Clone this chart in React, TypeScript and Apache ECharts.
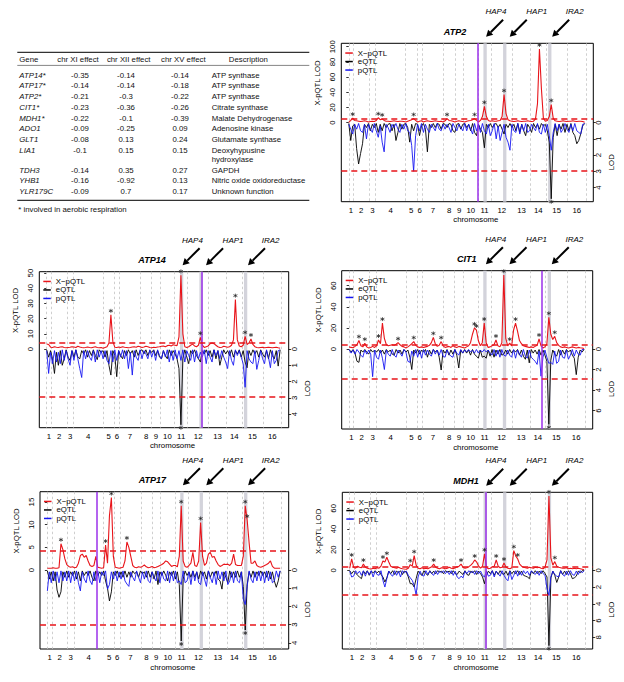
import React, { useEffect, useRef } from 'react';
import * as echarts from 'echarts';

// ---------------- data ----------------
const CHR_LABELS = ['1', '2', '3', '4', '5', '6', '7', '8', '9', '10', '11', '12', '13', '14', '15', '16'];
const CHR_LEN_KB = [230, 813, 317, 1532, 577, 270, 1091, 563, 440, 746, 667, 1078, 924, 784, 1091, 948];
const SCAN_STEP_KB = 100;

const HOTSPOT_NAMES = ['HAP4', 'HAP1', 'IRA2'];
const HOTSPOT_KB = [6935, 7935, 10225];
const HOTSPOT_HALF_KB = 85;

const GENES_PLOTTED = ['ATP2', 'ATP14', 'CIT1', 'ATP17', 'MDH1'];
const GENE_KB = [6548, 7969, 9861, 2541, 6958];
const XPQTL_THRESH = [4.2, 4.3, 4.2, 4.3, 4.1];
const LOD_THRESH = 3;
const LEFT_TICKS = [[0, 20, 40, 60, 80, 100], [0, 10, 20, 30, 40, 50], [0, 20, 40, 60], [0, 5, 10, 15], [0, 20, 40, 60]];
const RIGHT_TICKS = [[0, 1, 2, 3, 4], [0, 1, 2, 3, 4], [0, 2, 4, 6], [0, 1, 2, 3, 4], [0, 2, 4, 6, 8]];
const LEFT_MAX = [104.5, 50.9, 74.2, 17.3, 75.5];
const RIGHT_MAX = [4.88, 4.83, 7.8, 4.34, 9.4];

const ATP2_XPQTL = [0.5, 3, 6, 3, 2.5, 2, 1.5, 2, 2.5, 2,
  1, 1.5, 2, 1.5, 3, 6.5, 4, 5, 3, 2,
  2, 1.5, 2, 2.5, 2, 1.5, 2, 2, 1.5, 1,
  2, 3, 4, 5.5, 3, 1, 2, 2.5, 1, 2,
  2.5, 2, 1.5, 2, 2.5, 2, 1.5, 2, 1, 2.5,
  5.5, 3, 2.5, 2, 1, 2, 2.5, 2, 1.5, 1,
  2, 2.5, 3, 4, 5.5, 3, 1, 3, 8, 21.5,
  8, 3, 2, 2.5, 2, 2, 2.5, 3, 8, 37,
  12, 4, 2.5, 2, 1.5, 2, 2.5, 2, 1.5, 2,
  2, 2.5, 2, 1.5, 2, 5, 25, 97, 45, 6,
  2, 3, 8, 24, 6, 2.5, 2, 1.5, 2, 2.5,
  2, 1.5, 2, 2, 2.5, 2, 1.5, 2, 2, 1.5,
  0.5];
const ATP2_EQTL = [0.05, 1.1, 0.2, 0.1, 1.6, 2.55, 1.9, 1.3, 0.1, 0.3,
  0.05, 0.5, 0.1, 0.3, 0.05, 0.6, 0.1, 0.5, 0.05, 0.3,
  0.1, 0.05, 0.5, 0.1, 1.1, 0.6, 0.05, 0.4, 0.1, 0.05,
  0.3, 1.2, 0.1, 0.5, 0.05, 0.1, 0.8, 0.2, 0.05, 0.4,
  1.8, 0.1, 0.3, 0.05, 0.3, 0.05, 0.1, 0.4, 0.05, 0.1,
  0.3, 0.05, 0.1, 0.5, 0.6, 0.1, 0.05, 0.4, 0.1, 0.05,
  0.3, 0.1, 0.5, 0.05, 0.6, 0.8, 0.1, 0.4, 0.6, 1.55,
  0.1, 0.3, 0.05, 0.3, 0.1, 0.05, 0.3, 0.1, 0.4, 0.7,
  0.1, 0.3, 0.05, 0.3, 0.1, 0.5, 0.05, 0.6, 0.1, 0.5,
  0.8, 0.1, 0.3, 0.6, 0.05, 0.3, 0.1, 0.4, 0.05, 0.2,
  0.1, 0.5, 1.2, 4.7, 0.9, 0.1, 0.8, 0.1, 0.4, 0.05,
  0.6, 0.1, 0.5, 0.05, 0.6, 0.8, 1.3, 1.1, 0.7, 0.2,
  0.05];
const ATP2_PQTL = [0.1, 0.4, 0.7, 0.1, 0.4, 0.05, 0.5, 0.6, 0.1, 1.0,
  0.1, 0.4, 0.6, 0.05, 0.5, 0.9, 0.2, 1.2, 1.8, 0.1,
  0.3, 0.6, 0.1, 0.3, 0.05, 0.4, 0.6, 0.1, 0.4, 0.05,
  0.5, 0.6, 1.4, 3.0, 0.8, 0.1, 0.5, 0.05, 0.6, 0.1,
  0.4, 0.6, 0.1, 0.3, 0.5, 0.05, 0.4, 0.5, 0.1, 0.4,
  0.1, 0.3, 0.6, 0.05, 0.3, 0.5, 0.1, 0.3, 0.5, 0.05,
  0.5, 0.1, 0.4, 0.7, 0.05, 0.5, 0.1, 0.6, 0.05, 0.5,
  0.7, 0.1, 0.8, 0.5, 0.05, 1.0, 0.2, 1.1, 0.6, 0.1,
  0.9, 1.2, 1.7, 0.1, 0.5, 0.6, 0.05, 0.7, 0.1, 0.5,
  0.05, 0.6, 0.5, 0.1, 0.3, 0.5, 0.05, 0.6, 0.7, 0.1,
  0.6, 0.1, 0.8, 1.7, 0.6, 0.05, 0.5, 0.1, 0.6, 0.4,
  0.05, 0.4, 0.6, 0.1, 0.5, 0.05, 0.5, 0.6, 0.7, 0.1,
  0.05];
const ATP2_STARS_TOP = [2, 15, 17, 33, 50, 64, 69, 79, 97, 103];
const ATP2_STARS_BOT = [103];

const ATP14_XPQTL = [3.3, 3, 1.2, 1, 1.5, 1.2, 1, 1.3, 1.5, 1,
  0.8, 1, 1.2, 1.5, 1.3, 1, 1.8, 1.3, 1, 0.8,
  1, 1.3, 1, 0.8, 1.2, 1.5, 1, 0.8, 1, 0.5,
  1, 1.5, 4, 22.5, 5, 1.2, 1, 1.3, 1, 1.5,
  1.2, 1, 0.8, 1, 1.3, 1.5, 1.2, 1.8, 1.5, 1,
  1.3, 1.8, 1.5, 1, 0.8, 1.2, 1, 1.3, 1.5, 1.8,
  2, 1.5, 2.2, 2.5, 2, 2.8, 2.5, 2.2, 8, 48.5,
  10, 1.5, 1, 1.5, 2.5, 3.2, 2, 1.5, 2.5, 7.7,
  2.5, 1, 1.5, 2, 3.5, 4, 3.5, 2.5, 1.5, 1,
  1.2, 1.8, 1.5, 1.2, 1.5, 2.5, 6, 32.5, 6, 2,
  1.5, 2.5, 8.3, 3, 4, 6.6, 3, 1.5, 1, 0.8,
  1, 1.2, 0.8, 1, 1.2, 1, 0.8, 1, 1.2, 0.8,
  0.5];
const ATP14_EQTL = [0.05, 0.5, 0.1, 0.6, 1.5, 0.2, 1.0, 0.1, 1.0, 0.6,
  0.05, 0.5, 0.7, 0.1, 0.5, 0.05, 0.5, 0.6, 0.1, 0.3,
  0.05, 0.5, 0.1, 0.4, 0.05, 0.4, 0.65, 0.05, 0.2, 0.1,
  0.5, 0.1, 1.0, 1.6, 0.1, 0.4, 1.7, 0.1, 0.4, 0.6,
  0.1, 0.4, 0.05, 0.3, 0.1, 0.5, 0.05, 0.4, 0.1, 0.05,
  0.3, 0.05, 0.4, 0.1, 0.2, 0.05, 0.4, 0.1, 0.5, 0.6,
  0.1, 0.4, 0.6, 0.05, 0.4, 0.1, 0.3, 0.6, 1.2, 4.65,
  0.6, 0.05, 0.5, 0.9, 0.1, 0.3, 0.05, 0.4, 0.6, 0.8,
  0.1, 0.3, 0.05, 0.4, 0.1, 0.5, 0.05, 0.6, 0.1, 1.0,
  0.5, 0.05, 0.3, 0.1, 0.4, 0.05, 0.5, 0.1, 0.3, 0.05,
  0.5, 0.1, 0.8, 1.15, 0.1, 0.4, 0.05, 0.3, 0.1, 0.5,
  0.05, 0.3, 0.5, 0.1, 0.6, 0.05, 0.4, 0.6, 0.1, 1.05,
  0.05];
const ATP14_PQTL = [0.1, 1.5, 0.2, 0.9, 0.1, 0.8, 0.2, 0.9, 0.05, 0.7,
  0.1, 0.6, 1.0, 0.1, 0.7, 0.05, 0.6, 1.2, 1.75, 0.1,
  0.6, 0.1, 0.5, 0.7, 0.1, 0.8, 0.05, 0.5, 0.1, 0.6,
  0.1, 0.7, 0.9, 0.1, 0.8, 0.05, 0.7, 0.1, 0.5, 0.05,
  0.6, 0.1, 1.2, 0.2, 1.6, 0.1, 0.5, 0.7, 0.05, 0.6,
  0.1, 0.3, 0.6, 0.05, 0.5, 0.1, 0.7, 0.05, 0.4, 0.6,
  0.1, 0.5, 0.05, 0.8, 0.1, 0.7, 0.05, 0.6, 0.1, 0.7,
  0.05, 0.8, 0.1, 0.4, 0.7, 0.05, 0.8, 0.1, 0.6, 0.2,
  0.5, 0.05, 0.9, 0.1, 0.5, 0.8, 0.05, 0.4, 0.1, 0.6,
  0.1, 0.5, 0.8, 1.2, 0.1, 0.7, 1.0, 0.05, 0.4, 0.1,
  0.5, 0.9, 2.35, 0.1, 0.6, 0.8, 0.9, 0.1, 1.25, 0.7,
  0.1, 0.6, 0.9, 0.05, 0.5, 1.15, 0.1, 0.9, 0.7, 0.1,
  0.05];
const ATP14_STARS_TOP = [33, 69, 79, 97, 102, 105];
const ATP14_STARS_BOT = [69];

const CIT1_XPQTL = [2, 1.5, 1.2, 2.5, 4, 8, 3, 2, 5.5, 2,
  1, 1.5, 2.5, 1.5, 3, 8.5, 5, 24.5, 10, 4,
  3, 3.5, 4, 3.5, 4.5, 6, 4, 2.5, 2, 1,
  2, 3.5, 5, 7, 3.5, 2, 1.5, 2, 1.5, 2,
  2.5, 3.5, 6, 11, 5, 2.5, 3.5, 7, 3, 1.5,
  2, 2.5, 1.5, 3, 2, 1.5, 2.5, 2, 1.5, 1,
  2, 3, 6, 14, 20, 18, 8, 3, 6, 24.6,
  6, 1.5, 2, 3, 4, 8.5, 3, 2, 6, 70,
  10, 3, 5.5, 3, 18, 24.5, 17, 8, 5, 3,
  2.5, 2, 1.5, 2, 1.5, 2.5, 3.5, 9.5, 3, 1,
  2, 5, 30, 14, 9, 12, 6, 3.5, 2, 1.5,
  2, 1.5, 1, 1.5, 2, 1.5, 1, 1.5, 1.2, 1,
  0.5];
const CIT1_EQTL = [0.05, 0.3, 0.05, 0.4, 1.2, 1.3, 0.1, 0.3, 0.05, 0.3,
  0.5, 0.05, 0.3, 0.1, 0.3, 0.05, 0.4, 0.1, 0.5, 0.05,
  0.3, 0.1, 0.5, 0.6, 0.05, 0.4, 0.1, 0.5, 0.05, 0.3,
  0.1, 0.8, 2.0, 0.1, 0.4, 0.05, 0.5, 0.1, 0.3, 0.05,
  0.8, 0.1, 0.5, 0.05, 0.3, 0.1, 0.8, 2.05, 0.1, 0.4,
  0.05, 0.6, 0.1, 0.5, 0.05, 0.6, 1.85, 0.1, 0.4, 0.05,
  0.4, 0.1, 0.6, 0.05, 0.5, 0.7, 0.9, 0.1, 0.8, 0.7,
  0.9, 0.1, 0.7, 0.05, 0.8, 0.1, 0.5, 0.05, 0.6, 0.5,
  0.1, 0.5, 0.05, 0.4, 0.1, 0.3, 0.05, 0.6, 0.1, 0.7,
  1.0, 0.1, 1.35, 0.05, 0.4, 0.1, 0.5, 0.05, 0.6, 0.1,
  0.6, 1.2, 7.35, 1.1, 0.1, 0.5, 0.7, 0.05, 0.6, 0.1,
  0.5, 0.05, 0.3, 0.1, 0.6, 0.9, 2.5, 0.8, 0.1, 0.3,
  0.05];
const CIT1_PQTL = [0.05, 0.4, 0.1, 0.5, 0.05, 0.3, 0.6, 0.8, 0.1, 0.5,
  0.1, 0.5, 2.7, 0.1, 0.8, 1.0, 0.1, 0.9, 2.0, 0.1,
  0.5, 0.7, 0.05, 0.6, 0.8, 0.1, 0.4, 0.7, 0.05, 0.3,
  1.2, 1.3, 0.2, 0.7, 0.05, 0.8, 0.1, 0.9, 0.05, 0.6,
  0.1, 0.5, 0.7, 0.05, 0.5, 0.1, 0.6, 0.05, 0.7, 0.8,
  0.1, 0.5, 0.7, 0.8, 0.05, 0.4, 0.6, 0.05, 0.4, 0.1,
  0.3, 0.05, 0.3, 0.1, 0.4, 0.05, 0.4, 0.1, 0.3, 0.05,
  0.3, 0.1, 0.4, 0.6, 0.05, 0.7, 0.1, 0.8, 0.05, 0.6,
  0.7, 0.1, 0.6, 0.8, 0.05, 0.9, 0.1, 0.5, 0.8, 0.05,
  0.7, 0.9, 0.1, 0.8, 1.0, 1.2, 1.5, 0.2, 2.65, 0.8,
  0.1, 0.8, 1.4, 1.3, 1.5, 0.2, 1.4, 1.2, 0.1, 0.8,
  0.9, 0.1, 1.0, 0.6, 0.05, 0.7, 0.1, 0.5, 0.6, 0.05,
  0.05];
const CIT1_STARS_TOP = [5, 8, 15, 17, 25, 33, 43, 47, 64, 65, 69, 75, 79, 82, 85, 97, 102, 105];
const CIT1_STARS_BOT = [102];

const ATP17_XPQTL = [0.4, 0.4, 0.4, 0.5, 0.4, 0.4, 0.5, 5.8, 4.5, 2.5,
  1.2, 0.8, 0.6, 0.7, 0.5, 0.6, 1.5, 3.2, 3.5, 2.8,
  3.2, 2, 1, 0.8, 1, 3, 0.6, 0.5, 0.4, 0.5,
  5.5, 1.5, 12, 16, 3, 0.6, 0.5, 0.4, 0.5, 0.6,
  2, 6.2, 5, 3, 1, 0.6, 0.5, 0.7, 0.6, 0.8,
  1.1, 0.7, 0.5, 0.6, 0.8, 0.5, 0.6, 0.8, 1, 1.2,
  1.5, 2.0, 1.8, 1.3, 0.8, 1, 1, 0.7, 3, 14.2,
  2, 0.8, 0.6, 1, 1.5, 3.9, 1, 0.8, 2, 10.5,
  3, 1, 1.5, 3.5, 3.9, 2.8, 3, 2, 1.2, 0.8,
  1, 1.3, 1.2, 1.3, 1, 1.5, 3.5, 1.2, 1, 1,
  1, 3, 14.2, 11, 6, 1.5, 1.5, 2, 1, 0.7,
  0.6, 0.8, 1, 1.2, 1.5, 2, 0.8, 0.4, 0.4, 0.4,
  0.4];
const ATP17_EQTL = [0.05, 0.5, 0.1, 0.6, 0.1, 1.1, 1.5, 1.2, 0.1, 0.4,
  0.05, 0.4, 0.1, 0.3, 0.05, 0.5, 0.1, 0.6, 0.05, 0.3,
  0.1, 0.3, 0.05, 0.4, 0.6, 0.05, 0.3, 0.1, 0.3, 0.05,
  0.6, 1.0, 1.7, 1.2, 0.1, 0.3, 0.05, 0.4, 0.1, 0.4,
  0.05, 0.4, 0.1, 0.4, 0.05, 0.2, 0.1, 0.4, 0.05, 0.2,
  0.1, 0.4, 0.05, 0.4, 0.1, 0.5, 0.05, 0.8, 0.1, 0.3,
  0.05, 0.3, 0.6, 0.1, 0.3, 0.05, 0.5, 0.1, 0.8, 3.9,
  0.5, 0.05, 0.3, 0.1, 0.4, 0.05, 0.4, 0.1, 0.5, 0.05,
  0.3, 0.1, 0.5, 0.05, 0.4, 0.1, 0.3, 0.05, 0.5, 0.6,
  1.05, 0.1, 0.4, 0.7, 0.05, 0.4, 0.1, 0.4, 0.05, 0.4,
  0.1, 0.9, 3.3, 0.8, 0.1, 0.4, 0.05, 0.4, 0.1, 0.3,
  0.05, 0.3, 0.1, 0.4, 0.05, 0.5, 0.1, 0.6, 0.95, 0.6,
  0.05];
const ATP17_PQTL = [1.15, 0.1, 0.7, 0.05, 0.6, 0.1, 0.7, 0.05, 0.6, 0.1,
  0.6, 0.05, 0.7, 0.1, 0.6, 0.05, 0.7, 1.15, 0.1, 0.5,
  0.7, 0.05, 0.6, 0.8, 0.1, 0.6, 0.05, 0.7, 0.1, 0.3,
  0.05, 1.05, 0.8, 0.1, 0.5, 0.05, 0.6, 0.1, 0.5, 0.05,
  0.6, 0.77, 0.9, 0.1, 0.4, 0.6, 0.05, 0.4, 0.7, 0.1,
  0.5, 0.05, 0.6, 0.7, 0.1, 0.4, 0.6, 0.05, 0.7, 0.1,
  0.5, 0.6, 0.05, 0.7, 0.1, 0.6, 0.05, 0.7, 0.6, 0.8,
  0.05, 0.7, 0.6, 0.1, 0.8, 0.05, 0.6, 0.1, 0.7, 0.8,
  0.1, 0.5, 0.9, 0.05, 0.4, 0.7, 0.1, 0.8, 0.05, 0.5,
  0.1, 0.6, 0.05, 0.8, 0.6, 0.1, 0.7, 0.05, 0.6, 0.7,
  0.1, 1.6, 1.9, 0.9, 0.05, 0.5, 0.7, 0.1, 0.6, 0.05,
  0.6, 0.1, 0.7, 0.05, 0.6, 0.1, 0.7, 0.6, 0.05, 0.4,
  0.05];
const ATP17_STARS_TOP = [7, 30, 33, 41, 69, 79, 102, 103];
const ATP17_STARS_BOT = [69, 102];

const MDH1_XPQTL = [2, 11, 3, 2, 4, 3, 2.5, 6, 3, 2,
  1.5, 1.2, 2, 1.5, 2.5, 2, 4, 9, 8, 12.6,
  8, 4, 3, 2.5, 2, 3, 2, 1.5, 1.2, 1,
  2, 5.5, 4, 14.2, 5, 2, 1.5, 2.5, 1.5, 2,
  1.5, 2.5, 3.5, 6, 3, 2, 1.5, 2.5, 2, 1.5,
  2, 3, 2, 1.5, 2.5, 3.5, 4, 6, 3, 2,
  2.5, 3.5, 5, 7, 10, 8, 4, 2, 4, 16,
  3, 1.5, 2, 3.5, 4, 10, 4, 2.5, 3, 7,
  3, 2, 1.5, 2.5, 19, 14, 11, 6, 4, 3,
  2.5, 2, 3, 2.5, 2, 3, 2.5, 3, 2, 1.5,
  3, 10, 72, 12, 5, 8.4, 4, 3, 2.5, 2,
  2, 2.5, 1.5, 2, 1.5, 2, 1.5, 2, 1.5, 1,
  0.5];
const MDH1_EQTL = [0.05, 0.4, 0.1, 0.3, 0.6, 0.8, 1.0, 0.1, 0.4, 0.05,
  0.6, 0.1, 0.3, 0.05, 0.3, 0.1, 0.5, 0.8, 1.4, 0.9,
  0.1, 0.4, 0.05, 0.5, 0.1, 0.3, 0.05, 0.5, 0.1, 0.2,
  0.8, 1.6, 1.6, 2.0, 1.0, 0.1, 0.4, 0.6, 0.05, 0.4,
  0.6, 0.05, 0.4, 0.1, 0.4, 0.05, 0.2, 0.1, 0.4, 0.05,
  0.2, 0.1, 0.4, 0.05, 0.4, 0.5, 0.1, 0.3, 0.5, 0.05,
  0.5, 0.6, 0.1, 0.3, 0.05, 0.5, 0.1, 0.4, 0.8, 1.6,
  0.6, 0.1, 0.4, 0.05, 0.6, 0.1, 0.5, 0.05, 0.4, 0.5,
  0.1, 0.6, 0.05, 0.4, 0.1, 0.4, 0.05, 0.5, 0.1, 0.6,
  0.7, 0.8, 1.0, 0.1, 0.4, 0.05, 0.4, 0.1, 0.4, 0.05,
  0.4, 0.8, 9.0, 0.9, 0.1, 0.6, 1.45, 0.8, 0.05, 0.5,
  0.1, 0.5, 0.05, 0.4, 1.0, 0.9, 0.7, 0.1, 0.3, 0.05,
  0.05];
const MDH1_PQTL = [0.1, 0.8, 0.7, 0.05, 0.4, 0.1, 0.6, 0.05, 0.7, 0.1,
  0.5, 0.05, 0.8, 0.1, 0.5, 0.6, 0.05, 1.2, 2.0, 1.0,
  0.1, 0.5, 0.7, 0.05, 0.6, 0.1, 0.8, 0.05, 0.3, 0.1,
  0.6, 0.9, 1.2, 1.8, 2.95, 0.8, 0.1, 0.6, 0.7, 0.05,
  0.5, 0.1, 0.4, 0.6, 0.05, 0.5, 0.1, 0.3, 0.05, 0.4,
  0.1, 0.5, 0.05, 0.6, 0.1, 0.8, 1.0, 0.7, 0.9, 0.1,
  0.4, 0.05, 0.3, 0.1, 0.5, 0.05, 0.4, 0.1, 0.6, 0.8,
  0.1, 0.7, 0.6, 0.05, 0.8, 0.1, 0.4, 0.7, 0.05, 0.6,
  1.0, 1.25, 0.1, 1.1, 0.6, 0.05, 0.7, 0.1, 0.6, 0.05,
  0.4, 0.1, 0.6, 0.05, 0.3, 0.5, 0.1, 0.6, 0.05, 0.4,
  0.6, 2.2, 3.0, 0.8, 0.1, 0.5, 0.7, 0.8, 0.05, 0.5,
  0.7, 0.1, 0.6, 0.05, 0.5, 0.6, 0.1, 0.5, 0.05, 0.3,
  0.05];
const MDH1_STARS_TOP = [1, 7, 17, 19, 31, 33, 43, 57, 64, 69, 75, 79, 84, 86, 102, 105];
const MDH1_STARS_BOT = [102];

// table
const TABLE_HEADER = ['Gene', 'chr XI effect', 'chr XII effect', 'chr XV effect', 'Description'];
const TABLE_GENES = ['ATP14*', 'ATP17*', 'ATP2*', 'CIT1*', 'MDH1*', 'ADO1', 'GLT1', 'LIA1', 'TDH3', 'YHB1', 'YLR179C'];
const EFFECT_XI = [-0.35, -0.14, -0.21, -0.23, -0.22, -0.09, -0.08, -0.1, -0.14, -0.16, -0.09];
const EFFECT_XII = [-0.14, -0.14, -0.3, -0.36, -0.1, -0.25, 0.13, 0.15, 0.35, -0.92, 0.7];
const EFFECT_XV = [-0.14, -0.18, -0.22, -0.26, -0.39, 0.09, 0.24, 0.15, 0.27, 0.13, 0.17];
const DESCRIPTIONS = ['ATP synthase', 'ATP synthase', 'ATP synthase', 'Citrate synthase', 'Malate Dehydrogenase',
  'Adenosine kinase', 'Glutamate synthase', 'Deoxyhypusine\nhydroxylase', 'GAPDH', 'Nitric oxide oxidoreductase', 'Unknown function'];
const FOOTNOTE = '* involved in aerobic respiration';

// ---------------- layout / style ----------------
const FONT = '"Liberation Sans", Arial, Helvetica, sans-serif';
const RED = '#e8141a';
const BLUE = '#1616f2';
const PURPLE = '#9b30ea';
const X_MIN = -380;
const X_MAX = 12440;
const PANEL_BOX = [
  { left: 341.3, top: 43.3, width: 252, height: 158.4, zeroY: 122.7, titleDx: -12.3 },
  { left: 39.3, top: 271.7, width: 249.4, height: 156, zeroY: 349, titleDx: -12 },
  { left: 341.7, top: 270.7, width: 251, height: 158.3, zeroY: 349, titleDx: -0.5 },
  { left: 40, top: 491.7, width: 248.7, height: 157.3, zeroY: 570, titleDx: -12 },
  { left: 342.3, top: 492.3, width: 250.4, height: 156.7, zeroY: 570.3, titleDx: -1.5 },
];
const ARROW_DX = [1, 5, 2.4];
const ARROW_LABEL_DX = [10.8, 32, 25];

const PANELS = [
  { x: ATP2_XPQTL, e: ATP2_EQTL, q: ATP2_PQTL, st: ATP2_STARS_TOP, sb: ATP2_STARS_BOT },
  { x: ATP14_XPQTL, e: ATP14_EQTL, q: ATP14_PQTL, st: ATP14_STARS_TOP, sb: ATP14_STARS_BOT },
  { x: CIT1_XPQTL, e: CIT1_EQTL, q: CIT1_PQTL, st: CIT1_STARS_TOP, sb: CIT1_STARS_BOT },
  { x: ATP17_XPQTL, e: ATP17_EQTL, q: ATP17_PQTL, st: ATP17_STARS_TOP, sb: ATP17_STARS_BOT },
  { x: MDH1_XPQTL, e: MDH1_EQTL, q: MDH1_PQTL, st: MDH1_STARS_TOP, sb: MDH1_STARS_BOT },
];

const STAR_PATH = 'path://M5 0L5 10M0.67 2.5L9.33 7.5M0.67 7.5L9.33 2.5';

function chrGeometry() {
  const starts: number[] = [];
  let acc = 0;
  CHR_LEN_KB.forEach((l) => { starts.push(acc); acc += l; });
  const boundaries = [...starts, acc];
  const centers = CHR_LEN_KB.map((l, k) => starts[k] + l / 2);
  return { boundaries, centers };
}

function buildOption() {
  const { boundaries, centers } = chrGeometry();
  const grid: any[] = [];
  const xAxis: any[] = [];
  const yAxis: any[] = [];
  const series: any[] = [];
  const legend: any[] = [];
  const labelStyle = { fontSize: 7.8, color: '#000', fontFamily: FONT };

  PANEL_BOX.forEach((b, p) => {
    const h1 = b.zeroY - b.top;
    const h2 = b.top + b.height - b.zeroY;
    const T = LEFT_MAX[p];
    const B = RIGHT_MAX[p];
    grid.push({
      left: b.left, top: b.top, width: b.width, height: b.height,
      show: true, borderColor: '#000', borderWidth: 1, backgroundColor: 'rgba(0,0,0,0)',
      containLabel: false, outerBoundsMode: 'none',
    });
    xAxis.push({
      gridIndex: p, type: 'value', min: X_MIN, max: X_MAX,
      axisLine: { show: false }, axisTick: { show: false }, splitLine: { show: false },
      axisLabel: {
        ...labelStyle, margin: 4.5, customValues: centers,
        formatter: (v: number) => {
          let best = 0;
          centers.forEach((c, k) => { if (Math.abs(c - v) < Math.abs(centers[best] - v)) best = k; });
          return CHR_LABELS[best];
        },
      },
      name: 'chromosome', nameLocation: 'middle', nameGap: 14,
      nameTextStyle: { ...labelStyle, padding: [0, 0, 0, 17] },
    });
    yAxis.push({
      gridIndex: p, type: 'value', position: 'left', min: -T * h2 / h1, max: T,
      axisLine: { show: false }, splitLine: { show: false },
      axisTick: { show: true, customValues: LEFT_TICKS[p], length: 2.5, lineStyle: { color: '#000', width: 0.8 } },
      axisLabel: { ...labelStyle, customValues: LEFT_TICKS[p], rotate: 90, margin: 4.5 },
    });
    yAxis.push({
      gridIndex: p, type: 'value', position: 'right', inverse: true, min: -B * h1 / h2, max: B,
      axisLine: { show: false }, splitLine: { show: false },
      axisTick: { show: true, customValues: RIGHT_TICKS[p], length: 2.5, lineStyle: { color: '#000', width: 0.8 } },
      axisLabel: { ...labelStyle, customValues: RIGHT_TICKS[p], rotate: 90, margin: 1.5 },
    });

    const pn = PANELS[p];
    const toXY = (arr: number[]) => arr.map((v, i) => [i * SCAN_STEP_KB, v]);
    const common = { type: 'line', xAxisIndex: p, showSymbol: false, symbol: 'none', silent: true, clip: true };

    series.push({
      ...common, name: 'eQTL', yAxisIndex: 2 * p + 1, data: toXY(pn.e), z: 2,
      itemStyle: { color: '#000' }, lineStyle: { color: '#000', width: 0.9 },
      markArea: {
        silent: true, itemStyle: { color: '#d3d3db' }, label: { show: false },
        data: HOTSPOT_KB.map((c) => [{ xAxis: c - HOTSPOT_HALF_KB }, { xAxis: c + HOTSPOT_HALF_KB }]),
      },
      markLine: {
        silent: true, symbol: ['none', 'none'], z: 1.5, label: { show: false },
        lineStyle: { color: '#c3c3c3', type: [2.5, 2.5], width: 0.8 },
        data: boundaries.map((v) => ({ xAxis: v })),
      },
    });
    series.push({
      ...common, name: 'pQTL', yAxisIndex: 2 * p + 1, data: toXY(pn.q), z: 3,
      itemStyle: { color: BLUE }, lineStyle: { color: BLUE, width: 0.9 },
      markLine: {
        silent: true, symbol: ['none', 'none'], label: { show: false },
        lineStyle: { color: PURPLE, width: 1.5, type: 'solid' },
        data: [{ xAxis: GENE_KB[p] }],
      },
    });
    series.push({
      ...common, name: 'X−pQTL', yAxisIndex: 2 * p, data: toXY(pn.x), z: 4,
      itemStyle: { color: RED }, lineStyle: { color: RED, width: 1.1 },
    });
    const starStyle = { color: 'rgba(0,0,0,0)', borderColor: '#222', borderWidth: 0.9 };
    series.push({
      type: 'scatter', name: 'sig', xAxisIndex: p, yAxisIndex: 2 * p, z: 6, silent: true,
      symbol: STAR_PATH, symbolSize: 4, symbolOffset: [0, -4], itemStyle: starStyle,
      data: pn.st.map((i) => [i * SCAN_STEP_KB, pn.x[i]]),
    });
    series.push({
      type: 'scatter', name: 'sig', xAxisIndex: p, yAxisIndex: 2 * p + 1, z: 6, silent: true,
      symbol: STAR_PATH, symbolSize: 4, symbolOffset: [0, 3], itemStyle: starStyle,
      data: pn.sb.map((i) => [i * SCAN_STEP_KB, Math.max(pn.e[i], pn.q[i])]),
    });
    legend.push({
      left: b.left + 4, top: b.top + 5.5, orient: 'vertical', padding: 0, itemGap: 0,
      itemWidth: 7.5, itemHeight: 1.5, icon: 'rect', selectedMode: false,
      data: ['X−pQTL', 'eQTL', 'pQTL'],
      textStyle: { fontSize: 7.8, lineHeight: 8.5, color: '#000', fontFamily: FONT },
    });
  });

  return { animation: false, grid, xAxis, yAxis, series, legend };
}

function textEl(text: string, x: number, y: number, extra: any = {}, rotation = 0) {
  const { align = 'left', fontStyle = 'normal', fontWeight = 'normal', fontSize = 7.8, fill = '#111' } = extra;
  return {
    type: 'text', x, y, rotation, silent: true,
    style: {
      text, fill, fontSize, fontFamily: FONT, fontStyle, fontWeight,
      align, verticalAlign: 'middle', textAlign: align, textVerticalAlign: 'middle',
    },
  };
}

// dashed significance line, snapped so that it fills a whole pixel pair
function thresholdLine(x1: number, x2: number, yRaw: number) {
  const y = 2 * Math.round((yRaw - 1) / 2) + 1;
  return {
    type: 'line', silent: true, z: 50,
    shape: { x1, y1: y, x2, y2: y },
    style: { stroke: RED, lineWidth: 1.6, lineDash: [6, 4] },
  };
}

function buildGraphics(chart: any) {
  const g: any[] = [];
  // ----- table -----
  const ruleL = 17.3, ruleR = 309.3;
  g.push({ type: 'line', silent: true, shape: { x1: ruleL, y1: 52.3, x2: ruleR, y2: 52.3 }, style: { stroke: '#333', lineWidth: 1.2 } });
  g.push({ type: 'line', silent: true, shape: { x1: ruleL, y1: 65.4, x2: ruleR, y2: 65.4 }, style: { stroke: '#333', lineWidth: 0.6 } });
  g.push({ type: 'line', silent: true, shape: { x1: ruleL, y1: 200.3, x2: ruleR, y2: 200.3 }, style: { stroke: '#333', lineWidth: 1.2 } });
  const headX = [19.3, 78, 128.7, 183.3, 248.3];
  const headAlign = ['left', 'center', 'center', 'center', 'center'];
  TABLE_HEADER.forEach((h, k) => g.push(textEl(h, headX[k], 59, { align: headAlign[k] })));
  TABLE_GENES.forEach((gene, r) => {
    const y = 75 + 10.75 * r + (r > 7 ? 9 : 0);
    g.push(textEl(gene, 19.3, y, { fontStyle: 'italic' }));
    g.push(textEl(String(EFFECT_XI[r]), 80, y, { align: 'center' }));
    g.push(textEl(String(EFFECT_XII[r]), 126, y, { align: 'center' }));
    g.push(textEl(String(EFFECT_XV[r]), 180, y, { align: 'center' }));
    DESCRIPTIONS[r].split('\n').forEach((line, li) => g.push(textEl(line, 211.7, y + li * 9.4)));
  });
  g.push(textEl(FOOTNOTE, 18.3, 209));

  // ----- panel annotations -----
  PANEL_BOX.forEach((b, p) => {
    const cx = b.left + b.width / 2;
    // significance thresholds, positioned through each axis' own scale
    const yTop = chart.convertToPixel({ yAxisIndex: 2 * p }, XPQTL_THRESH[p]) as number;
    const yLod = chart.convertToPixel({ yAxisIndex: 2 * p + 1 }, LOD_THRESH) as number;
    g.push(thresholdLine(b.left, b.left + b.width, yTop));
    g.push(thresholdLine(b.left, b.left + b.width, yLod));
    g.push(textEl(GENES_PLOTTED[p], cx + b.titleDx, b.top - 11.5, { align: 'center', fontStyle: 'italic', fontWeight: 'bold', fontSize: 9, fill: '#000' }));
    HOTSPOT_KB.forEach((kb, h) => {
      const bx = chart.convertToPixel({ xAxisIndex: p }, kb) as number;
      const tipX = bx + ARROW_DX[h];
      const tipY = b.top - 6.5;
      const tailX = tipX + 17;
      const tailY = tipY - 17;
      const ux = -Math.SQRT1_2, uy = Math.SQRT1_2;
      const hl = 6.5, hw = 3.6;
      const baseX = tipX - ux * hl, baseY = tipY - uy * hl;
      const px = -uy, py = ux;
      g.push({ type: 'line', silent: true, shape: { x1: tailX, y1: tailY, x2: baseX, y2: baseY }, style: { stroke: '#000', lineWidth: 2 } });
      g.push({
        type: 'polygon', silent: true,
        shape: { points: [[tipX, tipY], [baseX + px * hw, baseY + py * hw], [baseX - px * hw, baseY - py * hw]] },
        style: { fill: '#000' },
      });
      g.push(textEl(HOTSPOT_NAMES[h], bx + ARROW_LABEL_DX[h], b.top - 31.5, { align: 'center', fontStyle: 'italic', fontSize: 8, fill: '#000' }));
    });
    const bottom = b.top + b.height;
    g.push(textEl('X-pQTL LOD', b.left - 23.5, (b.top + b.zeroY) / 2, { align: 'center', fill: '#000' }, Math.PI / 2));
    g.push(textEl('LOD', b.left + b.width + 18.5, (b.zeroY + bottom) / 2, { align: 'center', fill: '#000' }, Math.PI / 2));
  });
  return g;
}

export default function App() {
  const ref = useRef<HTMLDivElement>(null);
  useEffect(() => {
    if (!ref.current) return;
    const chart = echarts.init(ref.current, undefined, { renderer: 'svg' });
    chart.setOption(buildOption() as any);
    chart.setOption({ graphic: { elements: buildGraphics(chart) } } as any);
    return () => chart.dispose();
  }, []);
  return (
    <div
      ref={ref}
      style={{ position: 'absolute', left: 0, top: 0, width: 624, height: 682, background: '#fff' }}
    />
  );
}
